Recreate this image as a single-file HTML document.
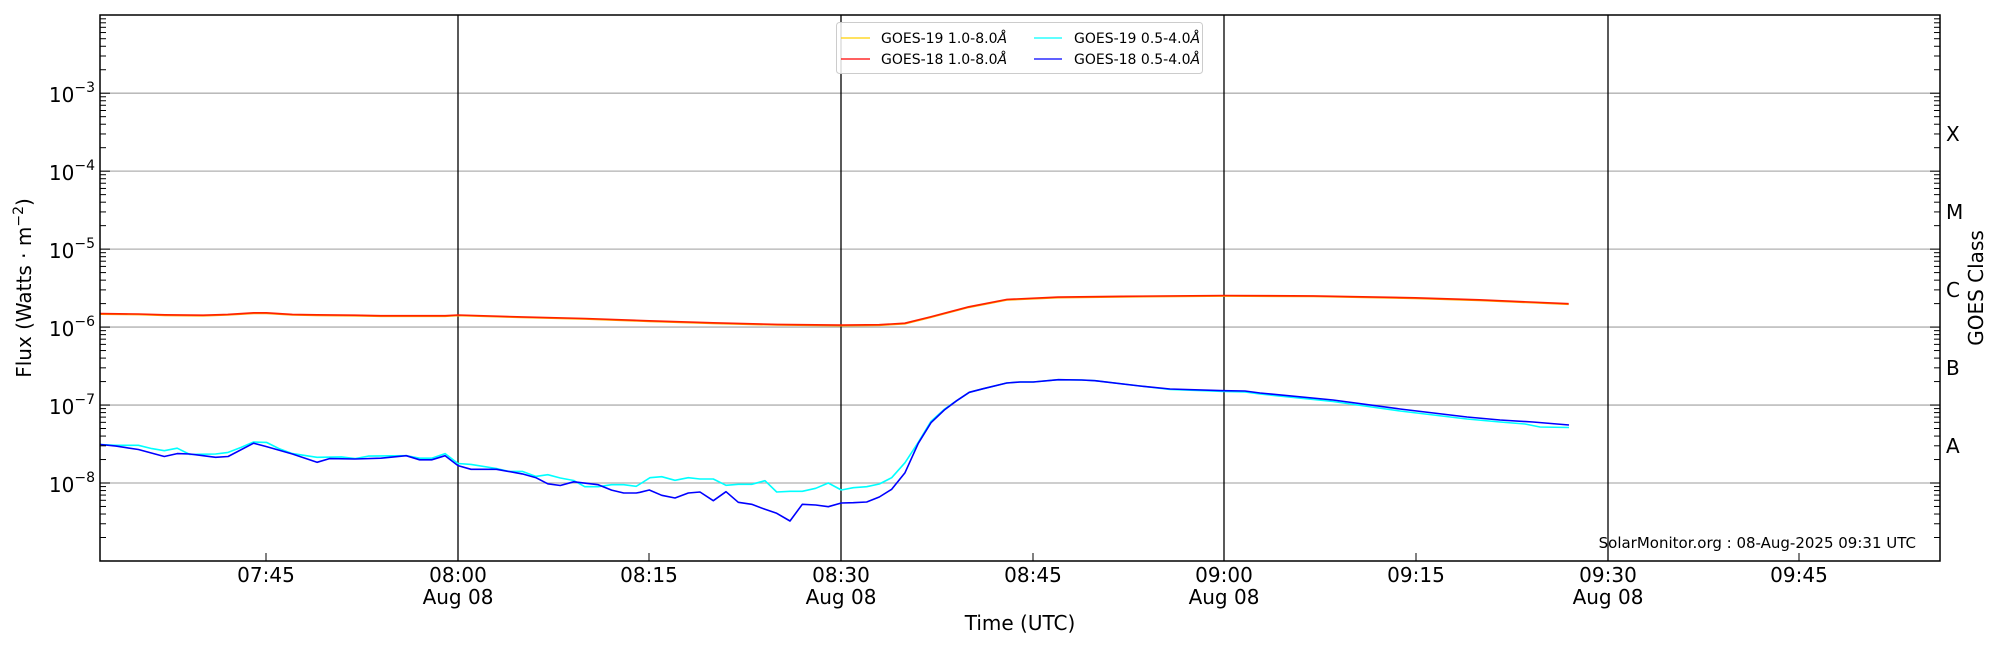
<!DOCTYPE html>
<html><head><meta charset="utf-8"><style>
html,body{margin:0;padding:0;background:#fff;}
svg{display:block;font-family:"DejaVu Sans","Liberation Sans",sans-serif;}
</style></head><body>
<svg id="s" width="2000" height="650" viewBox="0 0 2000 650" xmlns="http://www.w3.org/2000/svg">
<rect width="2000" height="650" fill="#fff"/>
<g id="grid"></g>
<g id="data" fill="none" stroke-linejoin="round"></g>
<g id="axes"></g>
<rect x="100" y="15" width="1840" height="546" fill="none" stroke="#000" stroke-width="1.5"/>
<g font-size="20" fill="#000" text-anchor="middle">
<text x="266" y="582">07:45</text>
<text x="458" y="582">08:00</text><text x="458" y="604">Aug 08</text>
<text x="649" y="582">08:15</text>
<text x="841" y="582">08:30</text><text x="841" y="604">Aug 08</text>
<text x="1033" y="582">08:45</text>
<text x="1224" y="582">09:00</text><text x="1224" y="604">Aug 08</text>
<text x="1416" y="582">09:15</text>
<text x="1608" y="582">09:30</text><text x="1608" y="604">Aug 08</text>
<text x="1799" y="582">09:45</text>
<text x="1020" y="630">Time (UTC)</text>
<text transform="translate(31,288) rotate(-90)">Flux (Watts · m<tspan dy="-8" font-size="14">−2</tspan><tspan dy="8">)</tspan></text>
<text transform="translate(1983,288) rotate(-90)">GOES Class</text>
</g>
<g font-size="20" fill="#000">
<text x="1946" y="141">X</text><text x="1946" y="219">M</text><text x="1946" y="297">C</text><text x="1946" y="375">B</text><text x="1946" y="453">A</text>
</g>
<g id="ylab" font-size="20" fill="#000"></g>
<text x="1916" y="548" font-size="15" text-anchor="end" fill="#000">SolarMonitor.org : 08-Aug-2025 09:31 UTC</text>
<g>
<rect x="836.5" y="22.5" width="366" height="51" rx="3" fill="#fff" fill-opacity="0.85" stroke="#ccc"/>
<line x1="841" y1="38" x2="870" y2="38" stroke="#ffd000" stroke-width="1.3"/>
<line x1="841" y1="59" x2="870" y2="59" stroke="#ff0000" stroke-width="1.3"/>
<line x1="1034" y1="38" x2="1062" y2="38" stroke="#00ffff" stroke-width="1.3"/>
<line x1="1034" y1="59" x2="1062" y2="59" stroke="#0000ff" stroke-width="1.3"/>
<g font-size="14" fill="#000">
<text x="881" y="43">GOES-19 1.0-8.0<tspan font-style="italic">Å</tspan></text>
<text x="881" y="64">GOES-18 1.0-8.0<tspan font-style="italic">Å</tspan></text>
<text x="1074" y="43">GOES-19 0.5-4.0<tspan font-style="italic">Å</tspan></text>
<text x="1074" y="64">GOES-18 0.5-4.0<tspan font-style="italic">Å</tspan></text>
</g></g>
</svg>
<script>
var NS="http://www.w3.org/2000/svg";
function el(p,t,a){var e=document.createElementNS(NS,t);for(var k in a)e.setAttribute(k,a[k]);p.appendChild(e);return e;}
var L=100,R=1940,T=15,B=561,D=77.96;
function yl(l){return 483-(l+8)*D;}
var g=document.getElementById('grid'),ax=document.getElementById('axes'),yl_=document.getElementById('ylab');
for(var e=-8;e<=-3;e++){var y=yl(e);el(g,'line',{x1:L,x2:R,y1:y,y2:y,stroke:'#b0b0b0','stroke-width':1.3});
 var t=el(yl_,'text',{x:95,y:y+9,'text-anchor':'end'});t.innerHTML='10<tspan dy="-10" font-size="14">−'+(-e)+'</tspan>';}
[458,841,1224,1608].forEach(function(x){el(g,'line',{x1:x,x2:x,y1:T,y2:B,stroke:'#000','stroke-width':1.3});});
for(var e=-9;e<-2;e++){for(var m=1;m<10;m++){var y=yl(e+Math.log10(m));if(y<T||y>B)continue;var len=m==1?10:6;
 el(ax,'line',{x1:L,x2:L+len,y1:y,y2:y,stroke:'#000','stroke-width':1});
 el(ax,'line',{x1:R-len,x2:R,y1:y,y2:y,stroke:'#000','stroke-width':1});}}
[266,458,649,841,1033,1224,1416,1608,1799].forEach(function(x){el(ax,'line',{x1:x,x2:x,y1:B-8,y2:B,stroke:'#000','stroke-width':1});});
function xm(hm){return 458+(hm-480)*12.767;}
function pl(pts,col,w){el(document.getElementById('data'),'polyline',{points:pts.map(function(p){return p[0].toFixed(1)+','+p[1].toFixed(1);}).join(' '),stroke:col,'stroke-width':w});}
function z1(a){return a.map(function(p){return [p[0]/2.24,p[1]/2.414];});}
function z3(a){return a.map(function(p){return [640+p[0]/3,340+p[1]/3];});}
var cy1=z1([[225,1073],[260,1075],[310,1075],[340,1083],[368,1088],[397,1082],[425,1097],[483,1096],[511,1092],[540,1080],[568,1067],[597,1068],[625,1083],[655,1095],[710,1104],[765,1103],[795,1107],[825,1101],[910,1100],[940,1106],[967,1106],[997,1095],[1026,1119],[1055,1121],[1112,1131],[1140,1138],[1170,1138],[1200,1150],[1227,1146],[1255,1154],[1285,1160],[1310,1175],[1340,1175],[1370,1170],[1397,1170],[1425,1174]]);
var cy3=z3([[0,432],[30,413],[65,410],[105,421],[145,413],[180,417],[220,417],[258,436],[295,433],[335,433],[375,422],[410,456],[450,454],[487,454],[527,445],[565,429],[604,450],[640,443],[680,440],[718,432],[755,413],[795,368],[835,307],[873,244],[913,208],[950,182],[988,157],[1030,146],[1100,129],[1140,126],[1180,126],[1255,119],[1325,120],[1365,122],[1500,138]]);
var bl1=z1([[225,1073],[260,1077],[310,1085],[368,1102],[397,1095],[425,1096],[455,1100],[483,1104],[511,1102],[568,1070],[597,1078],[655,1096],[710,1116],[738,1107],[795,1108],[853,1106],[910,1100],[940,1110],[967,1110],[997,1100],[1026,1124],[1055,1133],[1112,1133],[1170,1144],[1200,1153],[1227,1168],[1255,1172],[1285,1163],[1340,1170],[1370,1183],[1397,1190],[1425,1190]]);
var bl3=z3([[0,457],[28,450],[65,466],[105,474],[145,459],[180,456],[220,482],[258,455],[295,487],[335,493],[375,508],[410,520],[450,543],[487,493],[527,495],[565,500],[604,489],[640,488],[680,486],[718,471],[755,448],[795,398],[835,310],[873,248],[913,210],[950,182],[988,157],[1030,146],[1100,129],[1140,126],[1180,126],[1255,119],[1325,120],[1365,122],[1500,138]]);
var tailB=[[1170,389],[1224,390.7],[1245,391],[1260,393],[1333,400],[1400,409],[1467,417],[1500,420],[1533,422],[1569,425]];
var tailC=[[1170,389.5],[1224,391.5],[1245,392],[1260,394],[1333,401.5],[1400,411],[1467,419],[1500,422],[1525,424],[1540,427],[1569,427.5]];
pl(cy1.concat(cy3).concat(tailC),'#00ffff',1.6);
pl(bl1.concat(bl3).concat(tailB),'#0000ff',1.6);
var red=[[480,-5.845],[485,-5.87],[490,-5.89],[495,-5.92],[500,-5.945],[505,-5.965],[510,-5.975],[513,-5.97],[515,-5.95],[517,-5.87],[520,-5.74],[523,-5.645],[527,-5.615],[532,-5.605],[540,-5.595],[547,-5.6],[555,-5.625],[560,-5.65],[567,-5.7]];
var rp=z1([[225,757],[310,758],[370,760],[455,761],[510,759],[568,755],[597,755],[655,759],[710,760],[795,761],[853,762],[967,762],[997,762]]);
var rr=rp.concat(red.map(function(p){return [xm(p[0]),yl(p[1])];}));
pl(rr.map(function(p){return [p[0],p[1]+0.8];}),'#ffa000',1.2);
pl(rr,'#ff2000',1.6);
</script>
</body></html>
